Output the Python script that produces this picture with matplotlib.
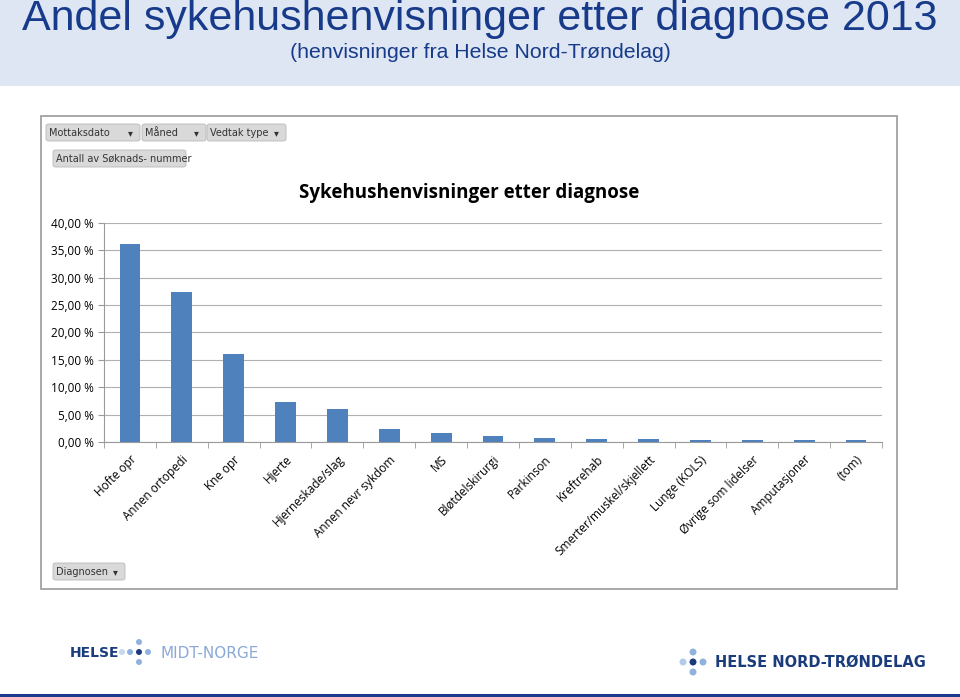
import matplotlib
matplotlib.use('Agg')
import matplotlib.pyplot as plt
from matplotlib.patches import Rectangle, FancyBboxPatch, Ellipse
from matplotlib.ticker import FuncFormatter

categories = ['Hofte opr', 'Annen ortopedi', 'Kne opr', 'Hjerte', 'Hjerneskade/slag',
              'Annen nevr sykdom', 'MS', 'Bløtdelskirurgi', 'Parkinson', 'Kreftrehab',
              'Smerter/muskel/skjellett', 'Lunge (KOLS)', 'Øvrige som lidelser',
              'Amputasjoner', '(tom)']
shares = [36.1, 27.4, 16.0, 7.3, 6.0, 2.4, 1.6, 1.1, 0.7, 0.5, 0.5, 0.3, 0.3, 0.3, 0.3]
y_ticks = [0, 5, 10, 15, 20, 25, 30, 35, 40]

W, H = 960, 697
fig = plt.figure(figsize=(W / 100, H / 100), dpi=100)
fig.patch.set_facecolor('white')


def fx(px):
    return px / W


def fy(py):
    return 1 - py / H


def dot(cx, cy, r, color):
    fig.patches.append(Ellipse((fx(cx), fy(cy)), 2 * r / W, 2 * r / H,
                               transform=fig.transFigure, facecolor=color,
                               edgecolor='none', zorder=3))


# header band
fig.patches.append(Rectangle((0, fy(86)), 1, 86 / H, transform=fig.transFigure,
                             facecolor='#dde6f2', edgecolor='none', zorder=-2))
fig.text(0.5, fy(19), 'Andel sykehushenvisninger etter diagnose 2013',
         ha='center', va='center', fontsize=31, color='#173a8a', family='Liberation Sans')
fig.text(0.5, fy(52), '(henvisninger fra Helse Nord-Trøndelag)',
         ha='center', va='center', fontsize=15.3, color='#173a8a', family='Liberation Sans')

# chart frame
fig.patches.append(Rectangle((fx(41), fy(589)), fx(897 - 41), (589 - 116) / H,
                             transform=fig.transFigure, facecolor='white',
                             edgecolor='#9a9a9a', linewidth=1.2, zorder=-1))

# pivot field buttons
buttons = [(46, 124, 94, 'Mottaksdato', True), (142, 124, 64, 'Måned', True),
           (207, 124, 79, 'Vedtak type', False), (53, 150, 133, 'Antall av Søknads- nummer', None),
           (53, 563, 72, 'Diagnosen', False)]
for x0, y0, w, label, filt in buttons:
    fig.patches.append(FancyBboxPatch((fx(x0), fy(y0 + 17)), fx(w), 17 / H,
                                      boxstyle='round,pad=0,rounding_size=0.003',
                                      transform=fig.transFigure, facecolor='#d9d9d9',
                                      edgecolor='#b8b8b8', linewidth=0.6))
    fig.text(fx(x0 + 3), fy(y0 + 9), label, ha='left', va='center', fontsize=7,
             color='#333333', family='DejaVu Sans')
    if filt is not None:
        fig.text(fx(x0 + w - 10), fy(y0 + 9), '▾', ha='center', va='center',
                 fontsize=7, color='#333333', family='DejaVu Sans')

ax = fig.add_axes([fx(104), fy(442), fx(882 - 104), (442 - 222.7) / H])
ax.set_zorder(5)
x = range(len(categories))
ax.bar(x, shares, width=0.4, color='#4f81bd', zorder=3)
ax.set_xlim(-0.5, len(categories) - 0.5)
ax.set_ylim(0, 40)
ax.set_yticks(y_ticks)
ax.yaxis.set_major_formatter(FuncFormatter(lambda v, p: f'{v:.2f} %'.replace('.', ',')))
ax.set_xticks(list(x))
ax.set_xticklabels(categories, rotation=45, ha='right', rotation_mode='anchor',
                   fontsize=8.5, family='Open Sans')
ax.set_xticks([i - 0.5 for i in range(len(categories) + 1)], minor=True)
ax.tick_params(axis='x', which='major', length=0, pad=8)
ax.tick_params(axis='x', which='minor', length=4, color='#9a9a9a')
ax.tick_params(axis='y', length=4, color='#9a9a9a', labelsize=8.5)
for lab in ax.get_yticklabels():
    lab.set_family('Open Sans')
ax.grid(axis='y', color='#b0b0b0', linewidth=0.8, zorder=0)
for s in ['top', 'right']:
    ax.spines[s].set_visible(False)
for s in ['left', 'bottom']:
    ax.spines[s].set_color('#9a9a9a')
ax.set_title('Sykehushenvisninger etter diagnose', fontsize=13.5, fontweight='bold',
             family='Open Sans', pad=18, loc='center', x=(469 - 104) / (882 - 104))

# logos
fig.text(fx(70), fy(653), 'HELSE', ha='left', va='center', fontsize=10, fontweight='bold',
         color='#1b3c7c', family='DejaVu Sans')
for dx, dy, c in [(-17, 0, '#c7d8ef'), (-9, 0, '#8fb2df'), (9, 0, '#8fb2df'),
                  (0, -10, '#8fb2df'), (0, 10, '#8fb2df'), (0, 0, '#1b3c7c')]:
    dot(139 + dx, 652 + dy, 3, c)
fig.text(fx(161), fy(653), 'MIDT-NORGE', ha='left', va='center', fontsize=11,
         color='#8aa9d6', family='DejaVu Sans')
for dx, dy, c in [(-10, 0, '#b4cbe9'), (10, 0, '#8fb2df'), (0, -10, '#8fb2df'),
                  (0, 10, '#8fb2df'), (0, 0, '#1b3c7c')]:
    dot(693 + dx, 662 + dy, 3.5, c)
fig.text(fx(715), fy(662), 'HELSE NORD-TRØNDELAG', ha='left', va='center', fontsize=10.5,
         fontweight='bold', color='#1b3c7c', family='DejaVu Sans')
fig.patches.append(Rectangle((0, 0), 1, 3 / H, transform=fig.transFigure,
                             facecolor='#1b3c8c', edgecolor='none'))

fig.savefig('out.png', dpi=100, facecolor='white')
